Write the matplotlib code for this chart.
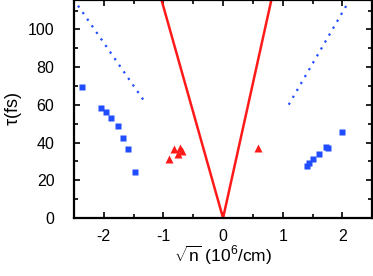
import matplotlib
matplotlib.use("Agg")
import matplotlib.pyplot as plt
from matplotlib.ticker import MultipleLocator

plt.rcParams['font.family'] = ['Liberation Sans', 'DejaVu Sans']
plt.rcParams['mathtext.fontset'] = 'custom'
plt.rcParams['mathtext.rm'] = 'Liberation Sans'
plt.rcParams['mathtext.it'] = 'Liberation Sans'
plt.rcParams['axes.unicode_minus'] = False

# blue squares (measured)
blue_x_left = [-2.37, -2.04, -1.96, -1.87, -1.76, -1.68, -1.59, -1.47]
blue_y_left = [69.3, 58.5, 56.2, 53.2, 48.8, 42.6, 36.4, 24.6]
blue_x_right = [1.41, 1.44, 1.51, 1.61, 1.72, 1.76, 1.99]
blue_y_right = [27.6, 29.0, 31.1, 34.0, 37.5, 37.1, 45.8]

# red triangles
red_x = [-0.90, -0.82, -0.75, -0.72, -0.68, 0.58]
red_y = [31.1, 36.6, 33.8, 37.0, 35.7, 37.0]

# red V line
vline_x = [-1.07, 0.0, 0.84]
vline_y = [120, 0, 120]

# dotted guide lines
dot_left_x = [-2.43, -1.33]
dot_left_y = [112.6, 62.4]
dot_right_x = [1.10, 2.08]
dot_right_y = [60.1, 113.4]

blue = '#1f4dff'
red = '#ff1a1a'

fig = plt.figure(figsize=(3.73, 2.76), dpi=100)
ax = fig.add_axes([0.198, 0.21, 0.80, 0.79])

ax.plot(vline_x, vline_y, color=red, lw=1.8)
ax.plot(dot_left_x, dot_left_y, color=blue, lw=1.6, ls=(0, (1, 2.6)))
ax.plot(dot_right_x, dot_right_y, color=blue, lw=1.6, ls=(0, (1, 2.6)))
ax.plot(blue_x_left, blue_y_left, 's', color=blue, ms=4.5, mec='none')
ax.plot(blue_x_right, blue_y_right, 's', color=blue, ms=4.5, mec='none')
ax.plot(red_x, red_y, '^', color=red, ms=5.5, mec='none')

ax.set_xlim(-2.5, 2.5)
ax.set_ylim(0, 115.6)
ax.xaxis.set_major_locator(MultipleLocator(1))
ax.xaxis.set_minor_locator(MultipleLocator(0.5))
ax.yaxis.set_major_locator(MultipleLocator(20))
ax.yaxis.set_minor_locator(MultipleLocator(10))
ax.tick_params(which='both', direction='in', top=True, right=True,
               width=1.2, labelsize=11.5)
ax.tick_params(axis='x', pad=8)
ax.tick_params(axis='y', pad=14)
ax.tick_params(which='major', length=4)
ax.tick_params(which='minor', length=3)
for s in ax.spines.values():
    s.set_linewidth(1.6)

ax.set_xlabel(r'$\sqrt{\mathrm{n}}$ (10$^6$/cm)', fontsize=12.5, labelpad=0)
ax.set_ylabel(r'$\mathrm{\tau}$(fs)', fontsize=13, labelpad=3)

fig.savefig('out.png', dpi=100)
